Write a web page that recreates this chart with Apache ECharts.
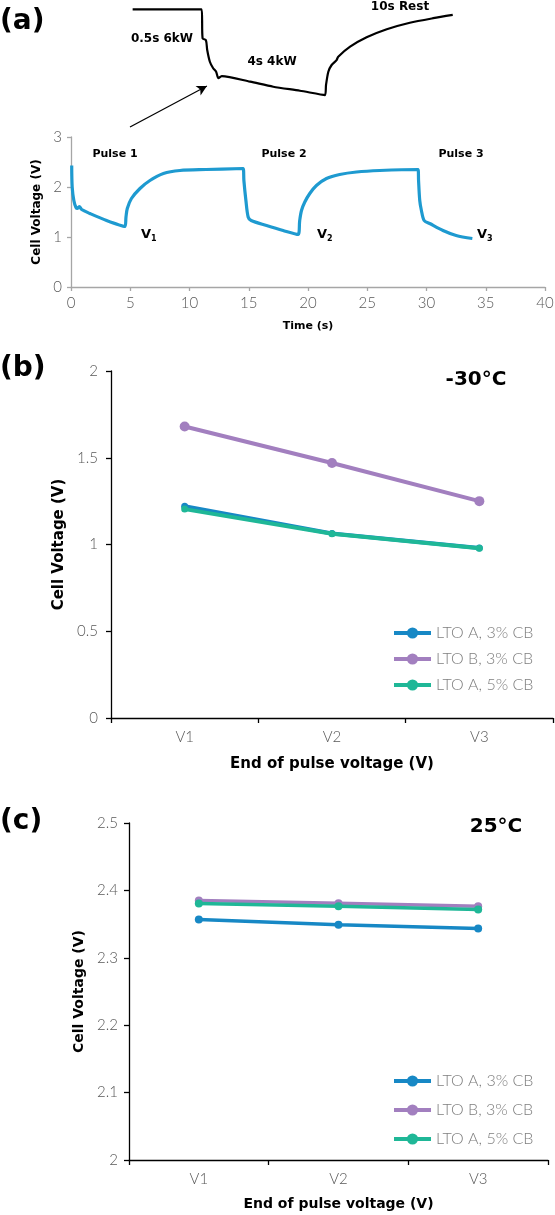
<!DOCTYPE html>
<html><head><meta charset="utf-8">
<script src="https://cdn.jsdelivr.net/npm/echarts@6/dist/echarts.min.js"></script>
<style>html,body{margin:0;padding:0;background:#fff}#c{width:555px;height:1215px}</style>
</head><body><div id="c"></div>
<script>
// ---------- Panel (a): pulse profile (time in s, cell voltage in V) ----------
const pulseTime = [0.06,0.1,0.24,0.42,0.55,0.7,0.9,1.6,3.0,4.55,
  4.64,4.75,5.1,5.82,6.66,7.8,9.19,11.4,14.53,
  14.59,14.76,14.95,15.2,16.5,17.9,19.17,
  19.3,19.45,19.73,20.15,20.71,21.56,22.67,24.09,26.05,29.29,
  29.33,29.43,29.57,29.8,30.27,31.39,32.5,33.87];
const pulseVolt = [2.43,2.0,1.73,1.59,1.57,1.61,1.55,1.47,1.33,1.21,
  1.40,1.57,1.77,1.97,2.13,2.27,2.33,2.35,2.37,
  2.13,1.73,1.40,1.33,1.23,1.13,1.05,
  1.33,1.53,1.70,1.87,2.03,2.17,2.25,2.30,2.33,2.35,
  2.13,1.73,1.53,1.33,1.27,1.13,1.03,0.97];
const pulseXTicks = {min:0, max:40, interval:5};
const pulseYTicks = {min:0, max:3, interval:1};

// ---------- Panel (a) inset: schematic of one pulse (arbitrary units 0-100) ----------
const sketchX = [0.8,21.7,22.0,23.0,23.4,24.2,25.2,26.1,26.8,27.8,36.4,43.4,51.5,59.1,
  59.4,60.1,61.1,62.6,63.1,66.7,71.7,77.8,84.8,91.9,97.8];
const sketchY = [92.8,92.8,70.5,69.2,61.5,52.5,47.5,44.8,39.8,41.5,37.2,33.3,30.2,26.9,
  34.6,44.8,50.0,53.8,56.4,64.1,71.3,77.5,82.5,86.0,88.5];
const arrowFrom = [0, 2.3];
const arrowTo = [23.3, 33.8];

// ---------- Panels (b) and (c) ----------
const categories = ['V1','V2','V3'];
const seriesNames = ['LTO A, 3% CB','LTO B, 3% CB','LTO A, 5% CB'];
const coldLTOA3 = [1.22, 1.063, 0.98];
const coldLTOB3 = [1.68, 1.47, 1.25];
const coldLTOA5 = [1.204, 1.062, 0.979];
const warmLTOA3 = [2.357, 2.349, 2.3435];
const warmLTOB3 = [2.385, 2.381, 2.3766];
const warmLTOA5 = [2.3805, 2.3766, 2.3716];
const coldYTicks = {min:0, max:2, interval:0.5};
const warmYTicks = {min:2, max:2.5, interval:0.1};

const colors = ['#1788C5', '#A27FBF', '#1FB797'];
const BOLD = 'DejaVu Sans';
const LIGHT = 'Lato';
const tickLabel = {color:'#595959', fontFamily:LIGHT, fontWeight:300, fontSize:15};
const boldName = (s) => ({fontFamily:BOLD, fontWeight:'bold', fontSize:s, color:'#000'});

const chart = echarts.init(document.getElementById('c'), null, {renderer:'canvas', width:555, height:1215});

function zip(a, b){ return a.map((v,i)=>[v, b[i]]); }

const catX = (gi, nameGap, nameSize) => ({
  gridIndex:gi, type:'category', data:categories, boundaryGap:true,
  axisLine:{show:true, lineStyle:{color:'#000', width:1.3}},
  axisTick:{show:true, length:5, lineStyle:{color:'#000', width:1.3}},
  axisLabel:Object.assign({}, tickLabel, {margin:12}),
  splitLine:{show:false},
  name:'End of pulse voltage (V)', nameLocation:'middle', nameGap:nameGap,
  nameTextStyle:boldName(nameSize)
});
const valY = (gi, t, nameGap, nameSize, margin) => ({
  gridIndex:gi, type:'value', min:t.min, max:t.max, interval:t.interval,
  axisLine:{show:true, lineStyle:{color:'#000', width:1.3}},
  axisTick:{show:true, length:5, lineStyle:{color:'#000', width:1.3}},
  axisLabel:Object.assign({}, tickLabel, {margin:margin}),
  splitLine:{show:false},
  name:'Cell Voltage (V)', nameLocation:'middle', nameGap:nameGap, nameRotate:90,
  nameTextStyle:boldName(nameSize)
});

const catSeries = (names, data, xi, lw, sizes) => names.map((n,i)=>({
  name:n, type:'line', xAxisIndex:xi, yAxisIndex:xi, data:data[i],
  symbol:'circle', symbolSize:sizes[i], showSymbol:true,
  itemStyle:{color:colors[i]}, lineStyle:{color:colors[i], width:lw},
  z: i === 2 ? 4 : 3
}));

const labelText = (x, y, text, size, align) => ({
  type:'text', x:x, y:y,
  style:{text:text, fill:'#000', fontFamily:BOLD, fontWeight:'bold', fontSize:size,
    align:align || 'center', verticalAlign:'middle'}
});
const subText = (x, y, main, sub) => ({
  type:'text', x:x, y:y,
  style:{text:'{v|' + main + '}{s|' + sub + '}', fill:'#000', align:'left', verticalAlign:'middle',
    rich:{
      v:{fontFamily:BOLD, fontWeight:'bold', fontSize:13, lineHeight:16, fill:'#000'},
      s:{fontFamily:BOLD, fontWeight:'bold', fontSize:8, lineHeight:9, verticalAlign:'bottom', fill:'#000'}
    }}
});

const legendCfg = (top, gap) => ({
  data:seriesNames, orient:'vertical', left:387, top:top, itemWidth:37, itemHeight:14, itemGap:gap,
  lineStyle:{width:4},
  textStyle:{fontFamily:LIGHT, fontWeight:300, fontSize:16, color:'#7f7f7f', lineHeight:14},
  selectedMode:false
});

const option = {
  animation:false,
  backgroundColor:'#fff',
  grid:[
    {left:130, top:0, width:330, height:130, outerBoundsMode:'none'},
    {left:71, top:137, width:474, height:150, outerBoundsMode:'none'},
    {left:111, top:371, width:442, height:347, outerBoundsMode:'none'},
    {left:129, top:823, width:419, height:337, outerBoundsMode:'none'}
  ],
  xAxis:[
    {gridIndex:0, type:'value', min:0, max:100, show:false},
    {gridIndex:1, type:'value', min:pulseXTicks.min, max:pulseXTicks.max, interval:pulseXTicks.interval,
      axisLine:{show:true, lineStyle:{color:'#a6a6a6', width:1.3}},
      axisTick:{show:true, length:4, lineStyle:{color:'#a6a6a6', width:1.3}},
      axisLabel:Object.assign({}, tickLabel, {margin:9}),
      splitLine:{show:false},
      name:'Time (s)', nameLocation:'middle', nameGap:34, nameTextStyle:boldName(11)},
    catX(2, 39, 15),
    catX(3, 37, 14)
  ],
  yAxis:[
    {gridIndex:0, type:'value', min:0, max:100, show:false},
    {gridIndex:1, type:'value', min:pulseYTicks.min, max:pulseYTicks.max, interval:pulseYTicks.interval,
      axisLine:{show:true, lineStyle:{color:'#a6a6a6', width:1.3}},
      axisTick:{show:true, length:4, lineStyle:{color:'#a6a6a6', width:1.3}},
      axisLabel:Object.assign({}, tickLabel, {margin:9}),
      splitLine:{show:false},
      name:'Cell Voltage (V)', nameLocation:'middle', nameGap:23, nameRotate:90, nameTextStyle:boldName(12)},
    valY(2, coldYTicks, 44, 15, 13),
    valY(3, warmYTicks, 39, 14, 11)
  ],
  legend:[legendCfg(620, 10), legendCfg(1068, 13)],
  series:[
    {name:'sketch', type:'line', xAxisIndex:0, yAxisIndex:0, data:zip(sketchX, sketchY),
      showSymbol:false, symbol:'none', smooth:0.25,
      lineStyle:{color:'#000', width:2.2}, itemStyle:{color:'#000'},
      markLine:{silent:true, symbol:['none','arrow'], symbolSize:[8,10],
        lineStyle:{color:'#000', width:1.2, type:'solid'}, label:{show:false},
        data:[[{coord:arrowFrom}, {coord:arrowTo}]]}},
    {name:'pulse', type:'line', xAxisIndex:1, yAxisIndex:1, data:zip(pulseTime, pulseVolt),
      showSymbol:false, symbol:'none', smooth:0.3,
      lineStyle:{color:'#1E9AD0', width:3.2}, itemStyle:{color:'#1E9AD0'}},
    ...catSeries(seriesNames, [coldLTOA3, coldLTOB3, coldLTOA5], 2, 4, [7, 10, 7]),
    ...catSeries(seriesNames, [warmLTOA3, warmLTOB3, warmLTOA5], 3, 3.5, [8, 8, 8])
  ],
  graphic:[
    labelText(0, 22, '(a)', 28, 'left'),
    labelText(0, 369, '(b)', 28, 'left'),
    labelText(0, 822, '(c)', 28, 'left'),
    labelText(162, 39, '0.5s 6kW', 12),
    labelText(272, 62, '4s 4kW', 12),
    labelText(400, 7, '10s Rest', 12),
    labelText(115, 154, 'Pulse 1', 11),
    labelText(284, 154, 'Pulse 2', 11),
    labelText(461, 154, 'Pulse 3', 11),
    subText(141, 235, 'V', '1'),
    subText(317, 235, 'V', '2'),
    subText(477, 235, 'V', '3'),
    labelText(476, 380, '-30°C', 20),
    labelText(496, 827, '25°C', 20)
  ]
};
chart.setOption(option);
</script></body></html>
